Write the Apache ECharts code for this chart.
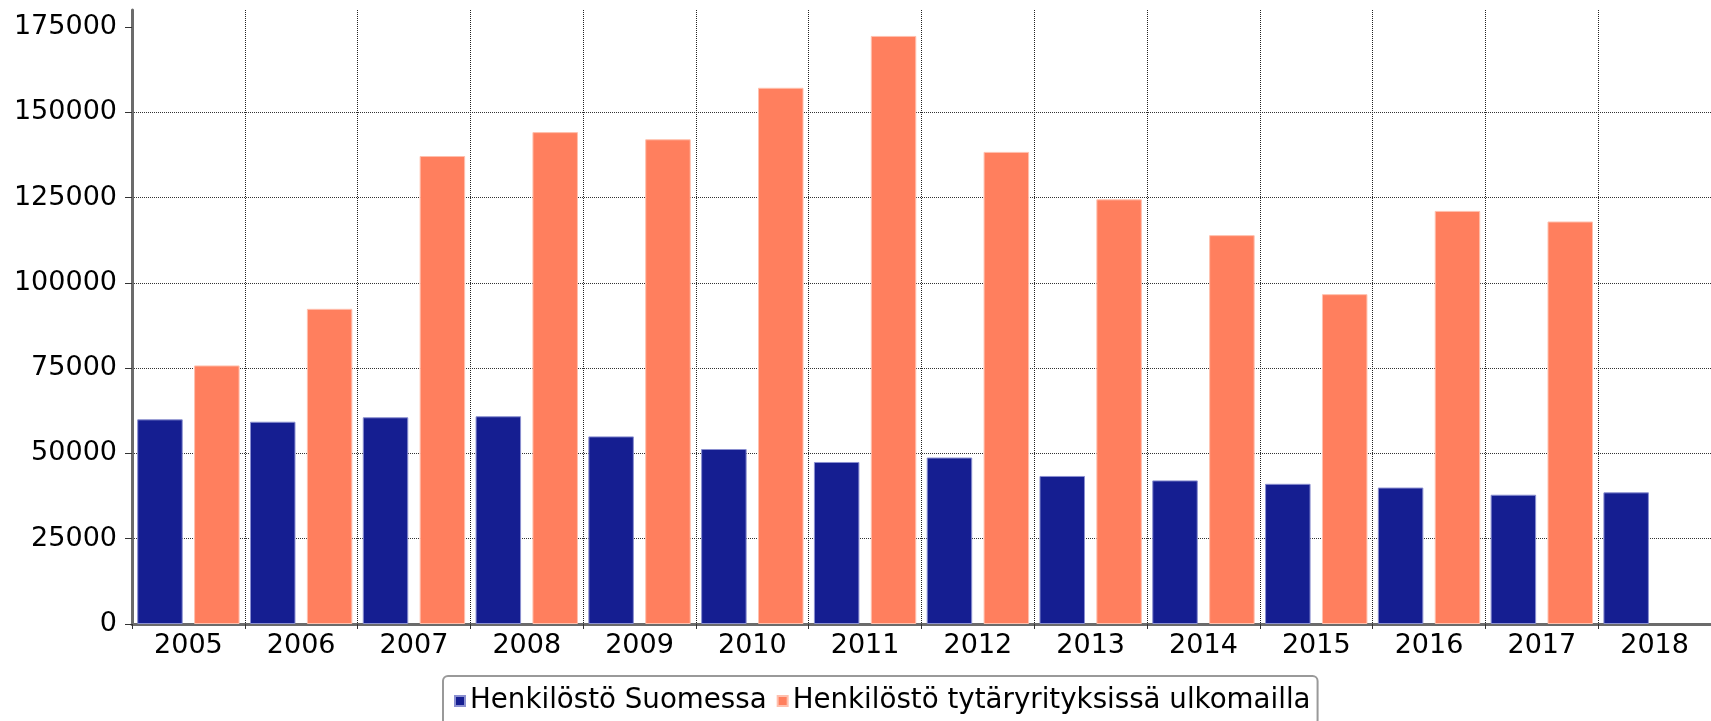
<!DOCTYPE html>
<html><head><meta charset="utf-8">
<script src="https://cdn.jsdelivr.net/npm/echarts@6/dist/echarts.min.js"></script>
<style>html,body{margin:0;padding:0;background:#fff;overflow:hidden}#c{width:1711px;height:721px;}</style>
</head><body><div id="c"></div>
<script>
const years = ['2005','2006','2007','2008','2009','2010','2011','2012','2013','2014','2015','2016','2017','2018'];
const seriesNames = ['Henkilöstö Suomessa', 'Henkilöstö tytäryrityksissä ulkomailla'];
const staffFinland = [60000, 59300, 60600, 60900, 55000, 51300, 47500, 48800, 43400, 42100, 41100, 40000, 37900, 38600];
const staffAbroad = [75800, 92400, 137200, 144200, 142100, 157200, 172400, 138400, 124500, 114000, 96700, 121100, 118000, null];
const yTicks = [0, 25000, 50000, 75000, 100000, 125000, 150000, 175000];

const FONT = '"DejaVu Sans", Verdana, sans-serif';
const chart = echarts.init(document.getElementById('c'), null, {renderer: 'canvas'});
chart.setOption({
  animation: false,
  backgroundColor: '#ffffff',
  textStyle: {fontFamily: FONT},
  grid: {left: 132, top: 10, width: 1590, height: 614, containLabel: false},
  legend: {
    left: 443, top: 676,
    padding: [11, 7, 10, 11],
    itemWidth: 10, itemHeight: 10, itemGap: 10,
    borderColor: '#999999', borderWidth: 2, borderRadius: 5,
    icon: 'rect',
    textStyle: {fontFamily: FONT, fontSize: 27.7, color: '#000'},
    data: seriesNames
  },
  xAxis: {
    type: 'category',
    data: years,
    boundaryGap: true,
    axisLine: {show: true, lineStyle: {color: '#6b6b6b', width: 3}},
    axisTick: {show: true, length: 5, lineStyle: {color: '#333', width: 1}},
    axisLabel: {fontFamily: FONT, fontSize: 27, color: '#000', margin: 8},
    splitLine: {show: true, lineStyle: {color: '#222', type: 'dotted', width: 1}}
  },
  yAxis: {
    type: 'value',
    min: 0, max: 180000, interval: 25000,
    axisLine: {show: true, lineStyle: {color: '#6b6b6b', width: 3}},
    axisTick: {show: true, length: 7, customValues: yTicks, lineStyle: {color: '#333', width: 1}},
    axisLabel: {fontFamily: FONT, fontSize: 27, color: '#000', margin: 15, customValues: yTicks,
      formatter: function (v) { return String(v); }},
    splitLine: {show: true, showMaxLine: false, lineStyle: {color: '#333', type: 'dotted', width: 1}}
  },
  series: [
    {
      name: seriesNames[0], type: 'bar', data: staffFinland,
      barWidth: 45.5, barGap: '25%',
      itemStyle: {color: '#151e91', borderColor: '#8a8fd0', borderWidth: 1}
    },
    {
      name: seriesNames[1], type: 'bar', data: staffAbroad,
      barWidth: 45.5, barGap: '25%',
      itemStyle: {color: '#ff7f5e', borderColor: '#ffc0ae', borderWidth: 1}
    }
  ]
});
</script>
</body></html>
